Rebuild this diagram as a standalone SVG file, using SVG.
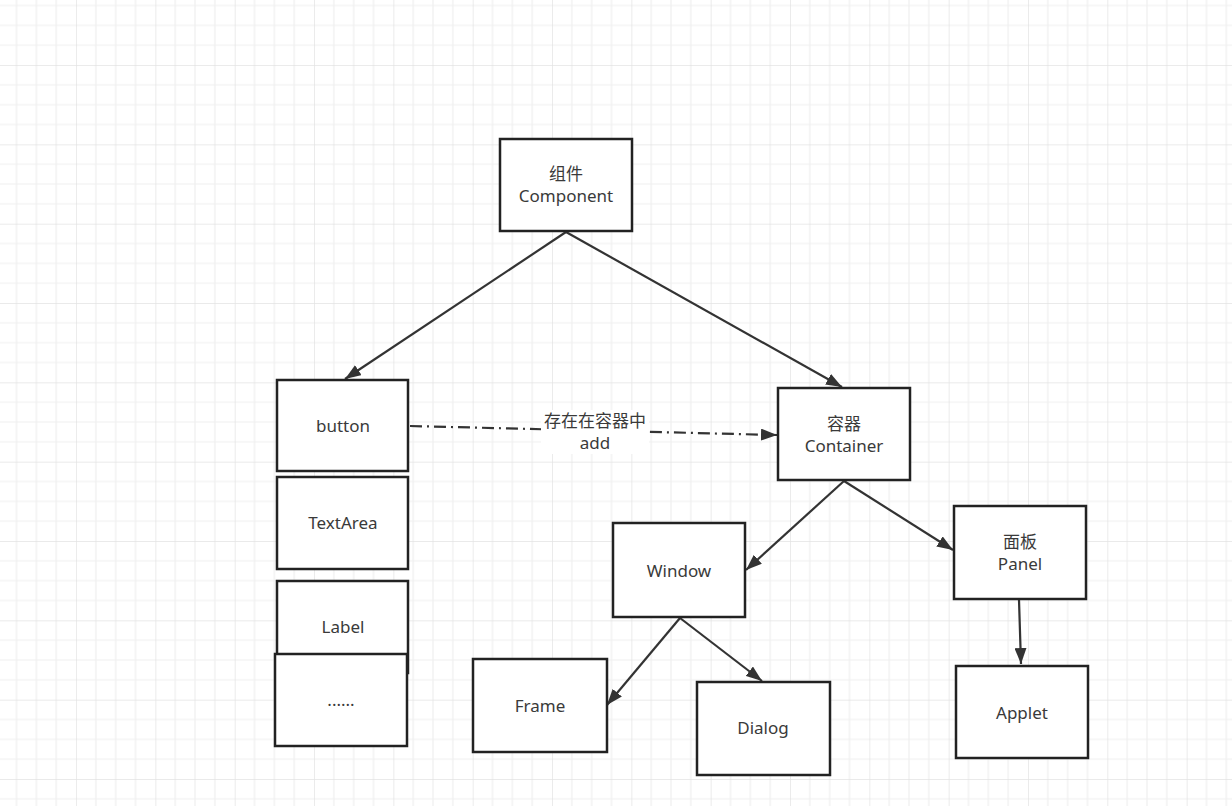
<svg xmlns="http://www.w3.org/2000/svg" width="1232" height="806" viewBox="0 0 1232 806">
  <style>
    .box { fill: #ffffff; stroke: #222222; stroke-width: 2.5; }
    .lbl { font-family: "Noto Sans", "Noto Sans CJK SC", sans-serif; font-size: 17px; fill: #3a3a3a; text-anchor: middle; dominant-baseline: central; }
    .edge { fill: none; stroke: #333333; stroke-width: 2.2; }
    .dashdot { stroke-dasharray: 12 5 2 5; }
  </style>
  <defs>
    <pattern id="grid" x="-3.3" y="-14.3" width="79.33" height="79.33" patternUnits="userSpaceOnUse">
      <rect width="79.33" height="79.33" fill="#ffffff"/>
      <path d="M19.83 0V79.33M39.67 0V79.33M59.5 0V79.33M0 19.83H79.33M0 39.67H79.33M0 59.5H79.33" stroke="#efefef" stroke-width="1.2" fill="none"/>
      <path d="M0 0V79.33M0 0H79.33" stroke="#e3e3e3" stroke-width="1.4" fill="none"/>
    </pattern>
    <marker id="arrow" viewBox="0 0 16 12" markerWidth="16" markerHeight="12" refX="16" refY="6" orient="auto" markerUnits="userSpaceOnUse">
      <path d="M0,0 L16,6 L0,12 z" fill="#333333"/>
    </marker>
  </defs>
  <rect width="1232" height="806" fill="url(#grid)"/>

  <g id="connectors">
    <line class="edge" x1="566" y1="232" x2="345" y2="379" marker-end="url(#arrow)"/>
    <line class="edge" x1="566" y1="232" x2="842" y2="387" marker-end="url(#arrow)"/>
    <line class="edge dashdot" x1="410" y1="426" x2="777" y2="435" marker-end="url(#arrow)"/>
    <line class="edge" x1="844" y1="481" x2="746" y2="570" marker-end="url(#arrow)"/>
    <line class="edge" x1="844" y1="481" x2="953" y2="550" marker-end="url(#arrow)"/>
    <line class="edge" x1="680" y1="618" x2="607" y2="705" marker-end="url(#arrow)"/>
    <line class="edge" x1="680" y1="618" x2="762" y2="681" marker-end="url(#arrow)"/>
    <line class="edge" x1="1019" y1="600" x2="1021" y2="664" marker-end="url(#arrow)"/>
    <g id="edge-label">
      <rect x="541" y="410" width="108" height="44" fill="#ffffff"/>
      <text class="lbl" x="595" y="420">存在在容器中</text>
      <text class="lbl" x="595" y="442">add</text>
    </g>
  </g>

  <g id="component">
    <rect class="box" x="500" y="139" width="132" height="92"/>
    <text class="lbl" x="566" y="173">组件</text>
    <text class="lbl" x="566" y="195">Component</text>
  </g>
  <g id="button">
    <rect class="box" x="277" y="380" width="131" height="91"/>
    <text class="lbl" x="343" y="425">button</text>
  </g>
  <g id="textarea">
    <rect class="box" x="277" y="477" width="131" height="92"/>
    <text class="lbl" x="343" y="522">TextArea</text>
  </g>
  <g id="label">
    <rect class="box" x="277" y="581" width="131" height="92"/>
    <text class="lbl" x="343" y="626">Label</text>
  </g>
  <g id="more">
    <rect class="box" x="275" y="654" width="132" height="92"/>
    <text class="lbl" x="341" y="699">......</text>
  </g>
  <g id="container">
    <rect class="box" x="778" y="388" width="132" height="92"/>
    <text class="lbl" x="844" y="423">容器</text>
    <text class="lbl" x="844" y="445">Container</text>
  </g>
  <g id="window">
    <rect class="box" x="613" y="523" width="132" height="94"/>
    <text class="lbl" x="679" y="570">Window</text>
  </g>
  <g id="panel">
    <rect class="box" x="954" y="506" width="132" height="93"/>
    <text class="lbl" x="1020" y="541">面板</text>
    <text class="lbl" x="1020" y="563">Panel</text>
  </g>
  <g id="frame">
    <rect class="box" x="473" y="659" width="134" height="93"/>
    <text class="lbl" x="540" y="705">Frame</text>
  </g>
  <g id="dialog">
    <rect class="box" x="697" y="682" width="133" height="93"/>
    <text class="lbl" x="763" y="727">Dialog</text>
  </g>
  <g id="applet">
    <rect class="box" x="956" y="666" width="132" height="92"/>
    <text class="lbl" x="1022" y="712">Applet</text>
  </g>
</svg>
